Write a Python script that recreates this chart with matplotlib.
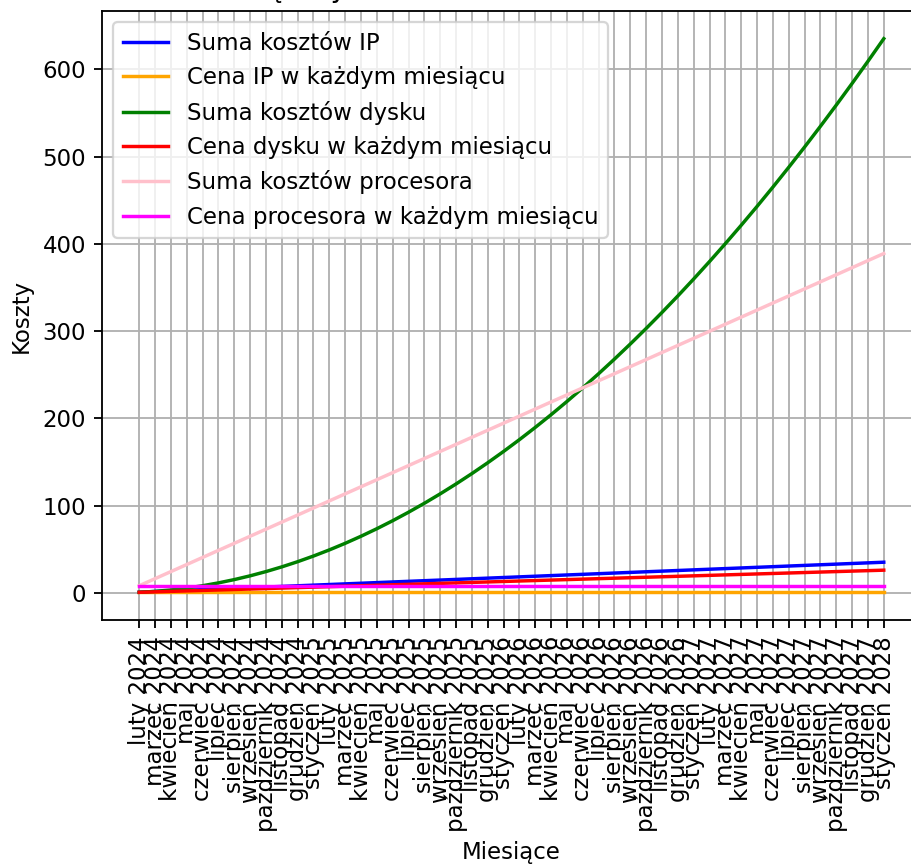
import matplotlib
matplotlib.use("Agg")
import matplotlib.pyplot as plt

months = [
    "luty 2024", "marzec 2024", "kwiecień 2024", "maj 2024", "czerwiec 2024", "lipiec 2024",
    "sierpień 2024", "wrzesień 2024", "październik 2024", "listopad 2024", "grudzień 2024", "styczeń 2025",
    "luty 2025", "marzec 2025", "kwiecień 2025", "maj 2025", "czerwiec 2025", "lipiec 2025",
    "sierpień 2025", "wrzesień 2025", "październik 2025", "listopad 2025", "grudzień 2025", "styczeń 2026",
    "luty 2026", "marzec 2026", "kwiecień 2026", "maj 2026", "czerwiec 2026", "lipiec 2026",
    "sierpień 2026", "wrzesień 2026", "październik 2026", "listopad 2026", "grudzień 2026", "styczeń 2027",
    "luty 2027", "marzec 2027", "kwiecień 2027", "maj 2027", "czerwiec 2027", "lipiec 2027",
    "sierpień 2027", "wrzesień 2027", "październik 2027", "listopad 2027", "grudzień 2027", "styczeń 2028",
]

ip_sum = [0.73, 1.46, 2.19, 2.92, 3.65, 4.38, 5.11, 5.84, 6.57, 7.30, 8.03, 8.76,
          9.49, 10.22, 10.95, 11.68, 12.41, 13.14, 13.87, 14.60, 15.33, 16.06, 16.79, 17.52,
          18.25, 18.98, 19.71, 20.44, 21.17, 21.90, 22.63, 23.36, 24.09, 24.82, 25.55, 26.28,
          27.01, 27.74, 28.47, 29.20, 29.93, 30.66, 31.39, 32.12, 32.85, 33.58, 34.31, 35.04]
ip_price = [0.73, 0.73, 0.73, 0.73, 0.73, 0.73, 0.73, 0.73, 0.73, 0.73, 0.73, 0.73,
            0.73, 0.73, 0.73, 0.73, 0.73, 0.73, 0.73, 0.73, 0.73, 0.73, 0.73, 0.73,
            0.73, 0.73, 0.73, 0.73, 0.73, 0.73, 0.73, 0.73, 0.73, 0.73, 0.73, 0.73,
            0.73, 0.73, 0.73, 0.73, 0.73, 0.73, 0.73, 0.73, 0.73, 0.73, 0.73, 0.73]
disk_sum = [0.54, 1.62, 3.24, 5.40, 8.10, 11.34, 15.12, 19.44, 24.30, 29.70, 35.64, 42.12,
            49.14, 56.70, 64.80, 73.44, 82.62, 92.34, 102.60, 113.40, 124.74, 136.62, 149.04, 162.00,
            175.50, 189.54, 204.12, 219.24, 234.90, 251.10, 267.84, 285.12, 302.94, 321.30, 340.20, 359.64,
            379.62, 400.14, 421.20, 442.80, 464.94, 487.62, 510.84, 534.60, 558.90, 583.74, 609.12, 635.04]
disk_price = [0.54, 1.08, 1.62, 2.16, 2.70, 3.24, 3.78, 4.32, 4.86, 5.40, 5.94, 6.48,
              7.02, 7.56, 8.10, 8.64, 9.18, 9.72, 10.26, 10.80, 11.34, 11.88, 12.42, 12.96,
              13.50, 14.04, 14.58, 15.12, 15.66, 16.20, 16.74, 17.28, 17.82, 18.36, 18.90, 19.44,
              19.98, 20.52, 21.06, 21.60, 22.14, 22.68, 23.22, 23.76, 24.30, 24.84, 25.38, 25.92]
cpu_sum = [8.1, 16.2, 24.3, 32.4, 40.5, 48.6, 56.7, 64.8, 72.9, 81.0, 89.1, 97.2,
           105.3, 113.4, 121.5, 129.6, 137.7, 145.8, 153.9, 162.0, 170.1, 178.2, 186.3, 194.4,
           202.5, 210.6, 218.7, 226.8, 234.9, 243.0, 251.1, 259.2, 267.3, 275.4, 283.5, 291.6,
           299.7, 307.8, 315.9, 324.0, 332.1, 340.2, 348.3, 356.4, 364.5, 372.6, 380.7, 388.8]
cpu_price = [8.1, 8.1, 8.1, 8.1, 8.1, 8.1, 8.1, 8.1, 8.1, 8.1, 8.1, 8.1,
             8.1, 8.1, 8.1, 8.1, 8.1, 8.1, 8.1, 8.1, 8.1, 8.1, 8.1, 8.1,
             8.1, 8.1, 8.1, 8.1, 8.1, 8.1, 8.1, 8.1, 8.1, 8.1, 8.1, 8.1,
             8.1, 8.1, 8.1, 8.1, 8.1, 8.1, 8.1, 8.1, 8.1, 8.1, 8.1, 8.1]

W, H, DPI = 911, 867, 165
fig = plt.figure(figsize=(W / DPI, H / DPI), dpi=DPI)
# the axes run past the right edge, as in the cropped original
ax = fig.add_axes([102 / W, (H - 620) / H, (921 - 102) / W, (620 - 11) / H])

ax.plot(months, ip_sum, color="blue", label="Suma kosztów IP")
ax.plot(months, ip_price, color="orange", label="Cena IP w każdym miesiącu")
ax.plot(months, disk_sum, color="green", label="Suma kosztów dysku")
ax.plot(months, disk_price, color="red", label="Cena dysku w każdym miesiącu")
ax.plot(months, cpu_sum, color="pink", label="Suma kosztów procesora")
ax.plot(months, cpu_price, color="magenta", label="Cena procesora w każdym miesiącu")

ax.set_title("Miesięczny koszt zasobów oraz suma kosztów")
ax.set_xlabel("Miesiące")
ax.set_ylabel("Koszty")
ax.tick_params(axis="x", rotation=90)
ax.grid(True)
ax.legend(loc="upper left")

fig.savefig("out.png", dpi=DPI)
